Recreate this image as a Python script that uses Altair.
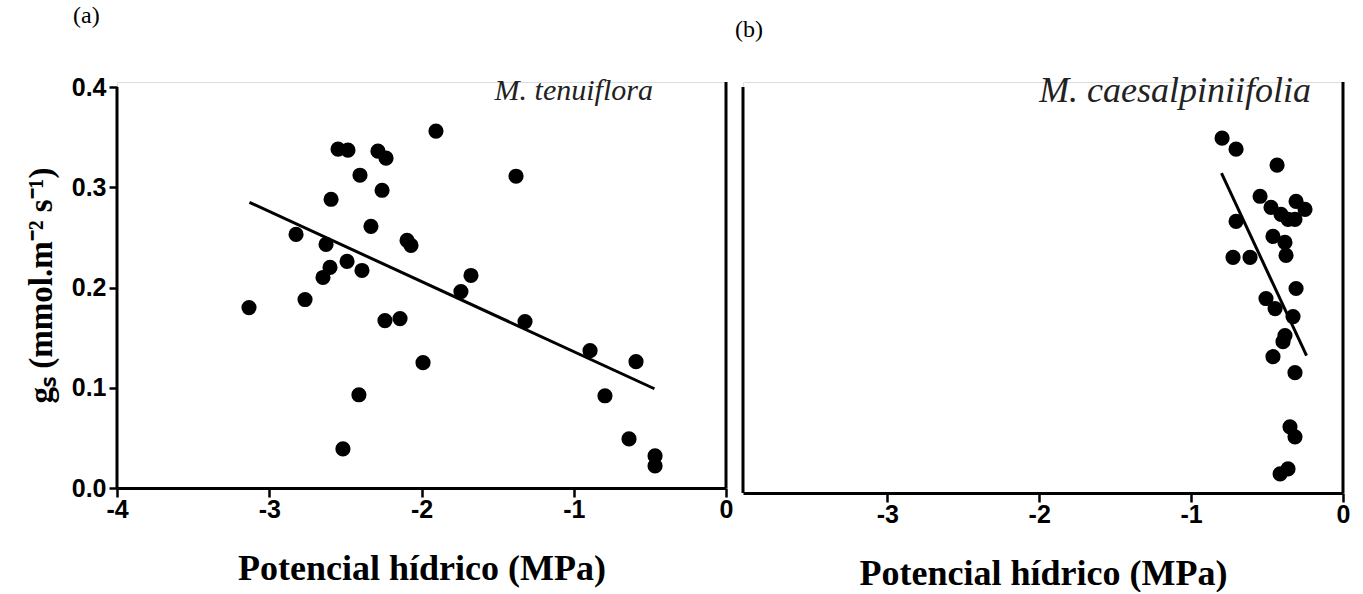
import altair as alt
import pandas as pd

# ---- data ----
# (a) M. tenuiflora
a_psi = [-3.133, -2.824, -2.765, -2.627, -2.601, -2.647, -2.594, -2.548, -2.483, -2.489,
         -2.516, -2.404, -2.391, -2.411, -2.332, -2.286, -2.233, -2.259, -2.240, -2.141,
         -2.095, -2.069, -1.990, -1.905, -1.741, -1.675, -1.379, -1.320, -0.893, -0.795,
         -0.637, -0.591, -0.466, -0.466]
a_gs = [0.180, 0.253, 0.188, 0.243, 0.220, 0.210, 0.288, 0.338, 0.337, 0.226,
        0.039, 0.312, 0.217, 0.093, 0.261, 0.336, 0.329, 0.297, 0.167, 0.169,
        0.247, 0.242, 0.125, 0.356, 0.196, 0.212, 0.311, 0.166, 0.137, 0.092,
        0.049, 0.126, 0.032, 0.022]
a_fit_psi = [-3.13, -0.47]
a_fit_gs = [0.285, 0.099]

# (b) M. caesalpiniifolia
b_psi = [-0.796, -0.704, -0.434, -0.546, -0.474, -0.408, -0.362, -0.309, -0.250, -0.316,
         -0.704, -0.461, -0.382, -0.375, -0.724, -0.612, -0.309, -0.507, -0.447, -0.329,
         -0.382, -0.395, -0.461, -0.316, -0.349, -0.316, -0.362, -0.414]
b_gs = [0.354, 0.343, 0.327, 0.296, 0.285, 0.278, 0.273, 0.291, 0.283, 0.273,
        0.271, 0.256, 0.250, 0.237, 0.235, 0.235, 0.204, 0.194, 0.184, 0.176,
        0.157, 0.151, 0.136, 0.120, 0.066, 0.056, 0.024, 0.019]
b_fit_psi = [-0.80, -0.24]
b_fit_gs = [0.319, 0.137]

x_ticks_a = [-4, -3, -2, -1, 0]
x_ticks_b = [-3, -2, -1, 0]
y_ticks = [0.0, 0.1, 0.2, 0.3, 0.4]

x_title = "Potencial hídrico (MPa)"
y_title = "gₛ (mmol.m⁻² s⁻¹)"

SANS = "Liberation Sans"
SERIF = "Liberation Serif"

df_a = pd.DataFrame({"psi": a_psi, "gs": a_gs})
df_b = pd.DataFrame({"psi": b_psi, "gs": b_gs})
fit_a = pd.DataFrame({"psi": a_fit_psi, "gs": a_fit_gs})
fit_b = pd.DataFrame({"psi": b_fit_psi, "gs": b_fit_gs})


def x_axis(values):
    return alt.Axis(
        values=values, labelExpr="'' + datum.value", title=x_title,
        labelFont=SANS, labelFontWeight="bold", labelFontSize=25, labelColor="black",
        labelPadding=0, tickSize=9, tickWidth=2.5, tickColor="black",
        domainColor="black", domainWidth=3, grid=False,
        titleFont=SERIF, titleFontWeight="bold", titleFontSize=36, titleColor="black",
        titlePadding=29, labelFlush=False,
    )


# ---------------- panel (a) ----------------
xa = alt.X("psi:Q", scale=alt.Scale(domain=[-4, 0], nice=False, zero=False), axis=x_axis(x_ticks_a))
ya = alt.Y("gs:Q", scale=alt.Scale(domain=[0, 0.405], nice=False, zero=False),
           axis=alt.Axis(values=y_ticks, format=".1f", title=y_title, domain=False,
                         labelFont=SANS, labelFontWeight="bold", labelFontSize=25, labelColor="black",
                         labelPadding=3, tickSize=8, tickWidth=2.5, tickColor="black", grid=False,
                         titleFont=SERIF, titleFontWeight="bold", titleFontSize=33, titleColor="black",
                         titlePadding=13))

pts_a = alt.Chart(df_a).mark_circle(size=230, color="black", opacity=1).encode(x=xa, y=ya)
line_a = alt.Chart(fit_a).mark_line(color="black", strokeWidth=3).encode(x="psi:Q", y="gs:Q")
frame_a = pd.DataFrame({"psi": [-4, 0], "lo": [0, 0], "hi": [0.4, 0.405]})
rules_a = alt.Chart(frame_a).mark_rule(color="black", strokeWidth=3).encode(
    x="psi:Q", y="lo:Q", y2="hi:Q")
lab_a = alt.Chart(pd.DataFrame({"psi": [-0.48], "gs": [0.396], "t": ["M. tenuiflora"]})).mark_text(
    font=SERIF, fontStyle="italic", fontSize=30, color="#222222", align="right", baseline="middle"
).encode(x="psi:Q", y="gs:Q", text="t:N")
tag_a = alt.Chart(pd.DataFrame({"t": ["(a)"]})).mark_text(
    font=SERIF, fontSize=24, color="black", align="left", baseline="middle"
).encode(x=alt.value(-44), y=alt.value(-66), text="t:N")

panel_a = alt.layer(pts_a, line_a, rules_a, lab_a, tag_a).properties(width=609, height=406)

# ---------------- panel (b) ----------------
xb = alt.X("psi:Q", scale=alt.Scale(domain=[-3.95, 0], nice=False, zero=False), axis=x_axis(x_ticks_b))
yb = alt.Y("gs:Q", scale=alt.Scale(domain=[0, 0.41], nice=False, zero=False), axis=None)

pts_b = alt.Chart(df_b).mark_circle(size=230, color="black", opacity=1).encode(x=xb, y=yb)
line_b = alt.Chart(fit_b).mark_line(color="black", strokeWidth=3).encode(x="psi:Q", y="gs:Q")
frame_b = pd.DataFrame({"psi": [-3.95, 0], "lo": [0, 0], "hi": [0.405, 0.41]})
rules_b = alt.Chart(frame_b).mark_rule(color="black", strokeWidth=3).encode(
    x="psi:Q", y="lo:Q", y2="hi:Q")
lab_b = alt.Chart(pd.DataFrame({"psi": [-0.21], "gs": [0.401], "t": ["M. caesalpiniifolia"]})).mark_text(
    font=SERIF, fontStyle="italic", fontSize=36, color="#222222", align="right", baseline="middle"
).encode(x="psi:Q", y="gs:Q", text="t:N")
tag_b = alt.Chart(pd.DataFrame({"t": ["(b)"]})).mark_text(
    font=SERIF, fontSize=24, color="black", align="left", baseline="middle"
).encode(x=alt.value(-8), y=alt.value(-52), text="t:N")

panel_b = alt.layer(pts_b, line_b, rules_b, lab_b, tag_b).properties(width=600, height=411)

chart = alt.hconcat(panel_a, panel_b, spacing=17, bounds="flush").properties(
    padding={"left": 24, "top": 3, "right": 0, "bottom": 0}
).configure_view(stroke=None).configure(background="white")

chart.save("out.html", embed_options={"renderer": "svg", "actions": False})
